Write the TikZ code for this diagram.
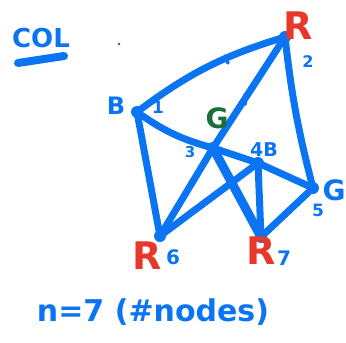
\documentclass[tikz,border=0pt]{standalone}
\usepackage{fontspec}
\setmainfont{DejaVu Sans}
\definecolor{pen}{HTML}{0A74F2}
\definecolor{redpen}{HTML}{E8382A}
\definecolor{greenpen}{HTML}{1B6E38}
\tikzset{
  edge/.style={draw=pen, line width=7pt, line cap=round, line join=round},
  vtx/.style={fill=pen},
  lbl/.style={text=pen, font=\bfseries, inner sep=0pt},
  rlbl/.style={text=redpen, font=\bfseries\fontsize{38}{38}\selectfont, inner sep=0pt},
  glbl/.style={text=greenpen, font=\bfseries\fontsize{28}{28}\selectfont, inner sep=0pt},
}
\begin{document}
\begin{tikzpicture}[x=1pt,y=-1pt]
\useasboundingbox (0,0) rectangle (346,343);
% vertices
\coordinate (n1) at (137,112);
\coordinate (n2) at (285,37);
\coordinate (n3) at (213,148);
\coordinate (n4) at (258,163);
\coordinate (n5) at (313,188);
\coordinate (n6) at (160,236);
\coordinate (n7) at (261,237);
% edges
\draw[edge] (n1) to[bend left=10] (n2);
\draw[edge] (n2) -- (n3);
\draw[edge] (n2) to[bend right=4] (n5);
\draw[edge] (n1) to[bend right=10] (n3);
\draw[edge] (n1) -- (n6);
\draw[edge] (n3) -- (n6);
\draw[edge, line width=9pt] (n3) -- (n7);
\draw[edge] (n3) -- (n4);
\draw[edge] (n4) -- (n5);
\draw[edge] (n6) -- (n4);
\draw[edge] (n4) -- (n7);
\draw[edge] (n5) -- (n7);
% vertex blobs
\foreach \v in {n1,n2,n3,n4,n5,n6,n7} \fill[vtx] (\v) circle (6);
% tick marks
\coordinate (t1a) at (225,56); \coordinate (t1b) at (228,63);
\coordinate (t2a) at (245,95); \coordinate (t2b) at (245,104);
\draw[edge, line width=3.5pt] (t1a) -- (t1b);
\draw[edge, line width=3.5pt] (t2a) -- (t2b);
% title
\node[lbl, font=\bfseries\fontsize{26}{26}\selectfont] (title) at (41,38) {COL};
\coordinate (ula) at (18,63); \coordinate (ulb) at (64,56);
\draw[edge, line width=8pt] (ula) -- (ulb);
\fill[greenpen] (119,44) circle (1.3);
% vertex labels
\node[rlbl] (r2) at (298,26) {R};
\node[lbl, font=\bfseries\fontsize{16}{16}\selectfont] (l2) at (308,62) {2};
\node[lbl, font=\bfseries\fontsize{24}{24}\selectfont] (b1) at (116,106) {B};
\node[lbl, font=\bfseries\fontsize{17}{17}\selectfont] (l1) at (158,107) {1};
\node[glbl] (g3) at (217,118) {G};
\node[lbl, font=\bfseries\fontsize{15}{15}\selectfont] (l3) at (190,152) {3};
\node[lbl, font=\bfseries\fontsize{19}{19}\selectfont] (l4) at (264,150) {4B};
\node[lbl, font=\bfseries\fontsize{28}{28}\selectfont] (g5) at (334,190) {G};
\node[lbl, font=\bfseries\fontsize{17}{17}\selectfont] (l5) at (318,210) {5};
\node[rlbl] (r6) at (147,256) {R};
\node[lbl, font=\bfseries\fontsize{20}{20}\selectfont] (l6) at (173,257) {6};
\node[rlbl] (r7) at (261,251) {R};
\node[lbl, font=\bfseries\fontsize{20}{20}\selectfont] (l7) at (284,258) {7};
% bottom text
\node[lbl, font=\bfseries\fontsize{30}{30}\selectfont] (count) at (153,312) {n=7 (\#nodes)};
\end{tikzpicture}
\end{document}
